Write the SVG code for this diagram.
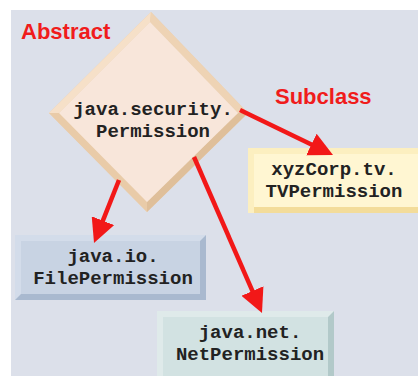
<svg xmlns="http://www.w3.org/2000/svg" width="418" height="376" viewBox="0 0 418 376">
<defs>
<style>
.lbl{font-family:"Liberation Sans",Arial,sans-serif;font-weight:bold;font-size:22px;fill:#f01c1c}
.mono{font-family:"Liberation Mono","Courier New",monospace;font-weight:bold;font-size:19px;fill:#222;text-anchor:middle}
.arrow{stroke:#f21818;stroke-width:4.5;fill:none;marker-end:url(#ah)}
</style>
<marker id="ah" viewBox="0 0 24 24" refX="4" refY="12" markerWidth="24" markerHeight="24" markerUnits="userSpaceOnUse" orient="auto">
<path d="M0,0 L24,12 L0,24 z" fill="#f21818"/>
</marker>
</defs>
<rect width="418" height="376" fill="#ffffff"/>
<rect x="11" y="10" width="407" height="366" fill="#dce0ea"/>

<text class="lbl" x="21" y="39">Abstract</text>
<text class="lbl" x="275" y="104">Subclass</text>

<g id="node-permission">
<polygon points="151,12 248,113 147,212 49,113" fill="#ecd0b0"/>
<polygon points="151,12 49,113 59,113 150,22" fill="#f6e0c8"/>
<polygon points="151,12 248,113 238,113 150,22" fill="#eed3b4"/>
<polygon points="49,113 147,212 147,202 59,113" fill="#e9cba8"/>
<polygon points="248,113 147,212 147,202 238,113" fill="#dfbf9a"/>
<polygon points="150,22 238,113 147,202 59,113" fill="#f8e6da"/>
<text class="mono" x="153" y="115">java.security.</text>
<text class="mono" x="153" y="137">Permission</text>
</g>

<g id="node-tvpermission">
<rect x="248" y="148" width="175" height="65" fill="#f3dc9a"/>
<polygon points="248,148 423,148 423,154 254,154 254,213 248,213" fill="#fcefc0"/>
<rect x="254" y="154" width="169" height="53" fill="#fff6d2"/>
<text class="mono" x="334" y="175">xyzCorp.tv.</text>
<text class="mono" x="334" y="197">TVPermission</text>
</g>

<g id="node-filepermission">
<rect x="15" y="235" width="191" height="65" fill="#a9b9cf"/>
<polygon points="15,235 206,235 200,241 21,241 21,294 15,300" fill="#d3dcea"/>
<rect x="21" y="241" width="179" height="53" fill="#c8d3e3"/>
<text class="mono" x="113" y="262">java.io.</text>
<text class="mono" x="113" y="284">FilePermission</text>
</g>

<g id="node-netpermission">
<rect x="157" y="311" width="177" height="65" fill="#b2c9c9"/>
<polygon points="157,311 334,311 328,317 163,317 163,376 157,376" fill="#dfeaea"/>
<rect x="163" y="317" width="165" height="59" fill="#d2e2e2"/>
<text class="mono" x="250" y="338">java.net.</text>
<text class="mono" x="250" y="360">NetPermission</text>
</g>

<g id="connectors">
<line class="arrow" x1="240" y1="110" x2="315" y2="146.3"/>
<line class="arrow" x1="119" y1="180" x2="101.4" y2="224.4"/>
<line class="arrow" x1="194" y1="157" x2="254" y2="294.7"/>
</g>
</svg>
